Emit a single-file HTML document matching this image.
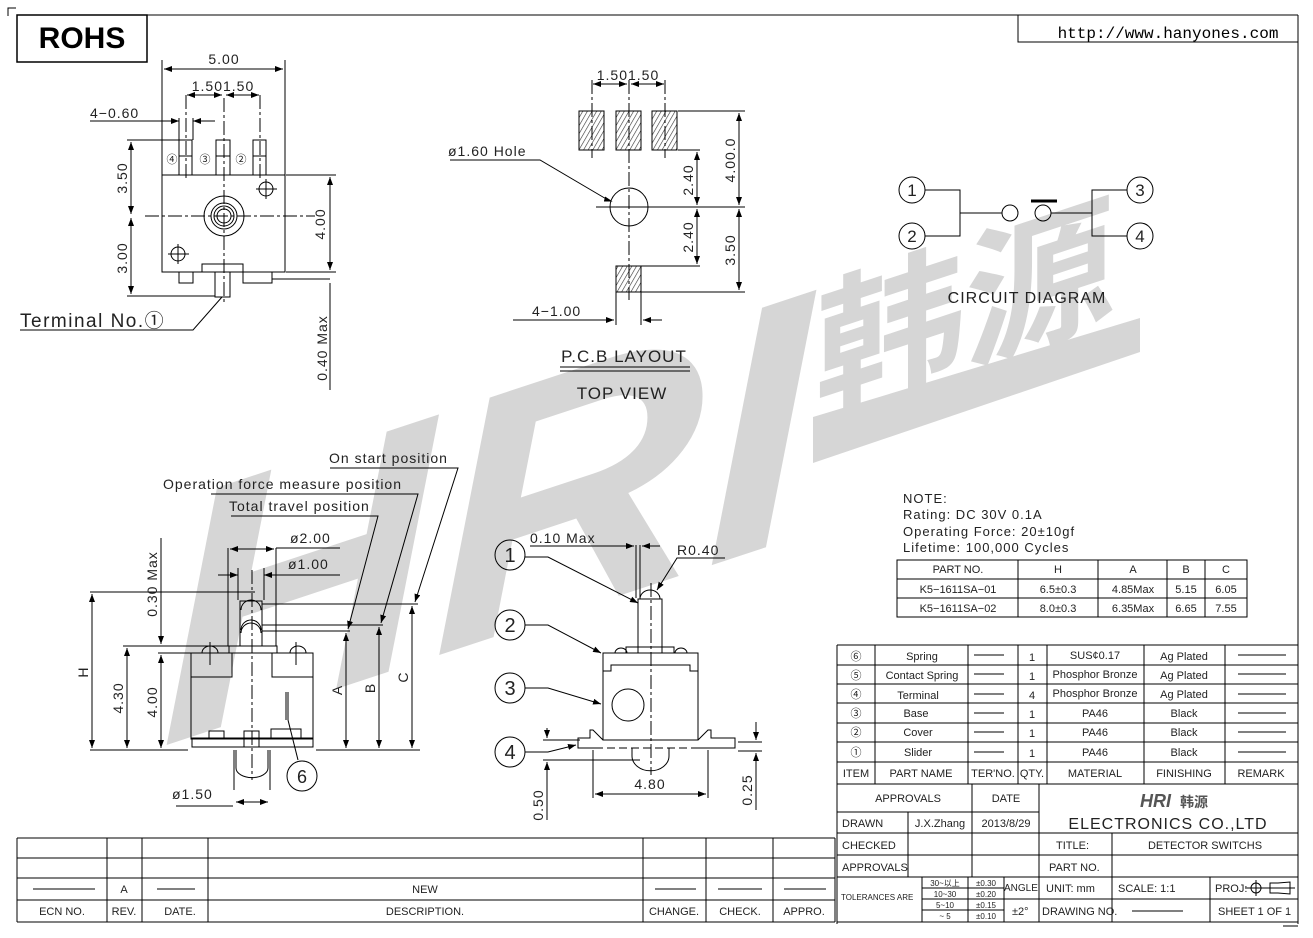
<!DOCTYPE html>
<html><head><meta charset="utf-8"><style>
html,body{margin:0;padding:0;background:#fff;}
svg{display:block;}
text{font-family:"Liberation Sans","Noto Sans CJK SC",sans-serif;fill:#222;}
.t{font-size:14px;letter-spacing:1px;}
.s{font-size:11px;}
.m{font-size:13px;letter-spacing:1px;}
</style></head><body>
<svg width="1313" height="938" viewBox="0 0 1313 938" xmlns="http://www.w3.org/2000/svg">
<defs>
<pattern id="h" width="4" height="4" patternUnits="userSpaceOnUse" patternTransform="rotate(30)"><rect width="4" height="4" fill="#fff"/><line x1="0" y1="0" x2="0" y2="4" stroke="#333" stroke-width="1.2"/></pattern>
<marker id="a" markerWidth="8" markerHeight="6" refX="8" refY="3" orient="auto-start-reverse" markerUnits="userSpaceOnUse"><path d="M0,0 L8,3 L0,6 z" fill="#000"/></marker>
</defs>

<!-- watermark -->
<g transform="matrix(1,-0.33,0,1,0,0)">
<text x="160" y="800" textLength="650" lengthAdjust="spacingAndGlyphs" style="font-size:350px;font-weight:bold;font-style:italic;font-family:'Liberation Sans',sans-serif;fill:#d6d6d6">HRI</text>
<text x="815" y="680" style="font-size:150px;font-weight:bold;font-family:'Noto Sans CJK SC',sans-serif;fill:#d6d6d6">韩源</text>
</g>
<polygon points="813,417 1140,318 1140,352 813,463" fill="#d6d6d6"/>

<g stroke="#000" stroke-width="1" fill="none">
<!-- frame -->
<path d="M8,16 V8 H16"/>
<line x1="22" y1="15" x2="1298" y2="15"/>
<line x1="1298" y1="15" x2="1298" y2="924"/>
<rect x="17" y="15" width="130" height="47" stroke-width="1.5"/>
<path d="M1018,15 V42 H1298"/>
<line x1="1283" y1="926" x2="1298" y2="926"/>

<!-- top-left view -->
<rect x="162" y="175" width="123" height="97"/>
<rect x="179" y="140" width="13" height="35"/><rect x="216" y="140" width="14" height="35"/><rect x="253" y="140" width="13" height="35"/>
<line x1="179" y1="156" x2="192" y2="156"/><line x1="216" y1="156" x2="230" y2="156"/><line x1="253" y1="156" x2="266" y2="156"/>
<circle cx="224" cy="216" r="20"/><circle cx="224" cy="216" r="13"/><circle cx="224" cy="216" r="10"/><circle cx="224" cy="216" r="7"/>
<line x1="145" y1="216" x2="315" y2="216" stroke-dasharray="14,3,3,3"/>
<line x1="224" y1="98" x2="224" y2="305" stroke-dasharray="14,3,3,3"/>
<line x1="186" y1="95" x2="186" y2="180" stroke-dasharray="14,3,3,3"/><line x1="260" y1="95" x2="260" y2="180" stroke-dasharray="14,3,3,3"/>
<circle cx="266" cy="189" r="7"/><line x1="256" y1="189" x2="277" y2="189"/><line x1="266" y1="179" x2="266" y2="199"/>
<circle cx="178" cy="254" r="7"/><line x1="168" y1="254" x2="189" y2="254"/><line x1="178" y1="244" x2="178" y2="264"/>
<rect x="202" y="264" width="41" height="8"/>
<rect x="179" y="272" width="14" height="11"/><rect x="215" y="272" width="15" height="25"/><rect x="243" y="272" width="29" height="11"/>
<line x1="272" y1="279" x2="330" y2="279"/>
<line x1="162" y1="60" x2="162" y2="175"/><line x1="285" y1="60" x2="285" y2="175"/>
<line x1="164" y1="69" x2="283" y2="69" marker-start="url(#a)" marker-end="url(#a)"/>
<line x1="187" y1="95" x2="222" y2="95" marker-start="url(#a)" marker-end="url(#a)"/><line x1="226" y1="95" x2="259" y2="95" marker-start="url(#a)" marker-end="url(#a)"/>
<line x1="90" y1="121" x2="179" y2="121" marker-end="url(#a)"/><line x1="179" y1="118" x2="179" y2="140"/><line x1="193" y1="118" x2="193" y2="140"/><line x1="193" y1="121" x2="215" y2="121" marker-start="url(#a)"/>
<line x1="127" y1="140" x2="179" y2="140"/><line x1="127" y1="296" x2="215" y2="296"/>
<line x1="131" y1="142" x2="131" y2="214" marker-start="url(#a)" marker-end="url(#a)"/><line x1="131" y1="218" x2="131" y2="294" marker-start="url(#a)" marker-end="url(#a)"/>
<line x1="286" y1="175" x2="336" y2="175"/><line x1="286" y1="272" x2="336" y2="272"/>
<line x1="330" y1="177" x2="330" y2="270" marker-start="url(#a)" marker-end="url(#a)"/>
<line x1="330" y1="283" x2="330" y2="390"/>
<path d="M20,330 H193 L222,297"/>

<!-- PCB layout -->
<rect x="579" y="111" width="25" height="39" fill="url(#h)"/><rect x="616" y="111" width="25" height="39" fill="url(#h)"/><rect x="652" y="111" width="25" height="39" fill="url(#h)"/>
<rect x="616" y="266" width="25" height="26" fill="url(#h)"/>
<circle cx="629" cy="207" r="19"/>
<line x1="596" y1="207" x2="660" y2="207"/>
<line x1="629" y1="80" x2="629" y2="300" stroke-dasharray="14,3,3,3"/>
<line x1="592" y1="80" x2="592" y2="158" stroke-dasharray="14,3,3,3"/><line x1="665" y1="80" x2="665" y2="158" stroke-dasharray="14,3,3,3"/>
<line x1="593" y1="84" x2="627" y2="84" marker-start="url(#a)" marker-end="url(#a)"/><line x1="631" y1="84" x2="664" y2="84" marker-start="url(#a)" marker-end="url(#a)"/>
<line x1="678" y1="111" x2="745" y2="111"/><line x1="678" y1="150" x2="700" y2="150"/><line x1="660" y1="207" x2="745" y2="207"/><line x1="641" y1="266" x2="700" y2="266"/><line x1="641" y1="292" x2="745" y2="292"/>
<line x1="697" y1="152" x2="697" y2="205" marker-start="url(#a)" marker-end="url(#a)"/><line x1="697" y1="209" x2="697" y2="264" marker-start="url(#a)" marker-end="url(#a)"/>
<line x1="739" y1="113" x2="739" y2="205" marker-start="url(#a)" marker-end="url(#a)"/><line x1="739" y1="209" x2="739" y2="290" marker-start="url(#a)" marker-end="url(#a)"/>
<line x1="616" y1="292" x2="616" y2="325"/><line x1="641" y1="292" x2="641" y2="325"/>
<line x1="513" y1="320" x2="614" y2="320" marker-end="url(#a)"/><line x1="643" y1="320" x2="662" y2="320" marker-start="url(#a)"/>
<path d="M450,160 H540 L608,200" /><path d="M605,197 l6,4 l-7,0" fill="#000"/>
<line x1="560" y1="367" x2="690" y2="367"/><line x1="560" y1="371" x2="690" y2="371"/>

<!-- circuit -->
<circle cx="912" cy="190" r="13"/><circle cx="912" cy="236" r="13"/><circle cx="1140" cy="190" r="13"/><circle cx="1140" cy="236" r="13"/>
<path d="M925,190 H960 V236 H925 M960,213 H1002"/>
<circle cx="1010" cy="213" r="8"/><circle cx="1043" cy="213" r="8"/>
<line x1="1031" y1="201" x2="1057" y2="201" stroke-width="3"/>
<path d="M1051,213 H1092 V190 H1127 M1092,213 V236 H1127"/>

<!-- note table -->
<rect x="897" y="560" width="350" height="57"/>
<line x1="897" y1="579" x2="1247" y2="579"/><line x1="897" y1="598" x2="1247" y2="598"/>
<line x1="1018" y1="560" x2="1018" y2="617"/><line x1="1098" y1="560" x2="1098" y2="617"/><line x1="1167" y1="560" x2="1167" y2="617"/><line x1="1205" y1="560" x2="1205" y2="617"/>

<!-- bottom-left view -->
<rect x="191" y="653" width="122" height="86"/>
<path d="M191,677 H232 V653 M313,677 H272 V653"/>
<rect x="192" y="738" width="121" height="9"/>
<rect x="229" y="646" width="48" height="7"/>
<path d="M202,653 a8,7 0 0 1 16,0 M290,653 a8,7 0 0 1 16,0"/>
<line x1="210" y1="642" x2="210" y2="665"/><line x1="296" y1="642" x2="296" y2="665"/>
<rect x="240" y="601" width="22" height="45"/>
<path d="M241,610 a10,10 0 0 1 20,0 M241,630 a10,10 0 0 1 20,0 M241,633 a10,10 0 0 1 20,0"/>
<rect x="244" y="731" width="15" height="16"/>
<path d="M234,750 V790 M270,750 V790 M236,750 v18 a10,6 0 0 0 32,0 v-18"/>
<rect x="209" y="731" width="15" height="7"/><rect x="271" y="729" width="30" height="9"/>
<line x1="252" y1="570" x2="252" y2="780" stroke-dasharray="14,3,3,3"/>
<line x1="286" y1="692" x2="286" y2="720"/><line x1="288" y1="692" x2="288" y2="720"/>
<path d="M288,720 L298,760"/><circle cx="302" cy="776" r="15"/>
<line x1="228" y1="548" x2="228" y2="646"/><line x1="276" y1="548" x2="276" y2="646"/>
<line x1="230" y1="549" x2="274" y2="549" marker-start="url(#a)" marker-end="url(#a)"/><line x1="276" y1="548" x2="340" y2="548"/>
<line x1="218" y1="575" x2="238" y2="575" marker-end="url(#a)"/><line x1="264" y1="575" x2="340" y2="575" marker-start="url(#a)"/>
<line x1="238" y1="568" x2="238" y2="600"/><line x1="264" y1="568" x2="264" y2="600"/>
<line x1="90" y1="592" x2="255" y2="592"/>
<line x1="123" y1="646" x2="240" y2="646"/><line x1="158" y1="653" x2="192" y2="653"/>
<line x1="90" y1="750" x2="188" y2="750"/><line x1="316" y1="750" x2="420" y2="750"/>
<line x1="92" y1="594" x2="92" y2="748" marker-start="url(#a)" marker-end="url(#a)"/>
<line x1="127" y1="648" x2="127" y2="748" marker-start="url(#a)" marker-end="url(#a)"/>
<line x1="161" y1="655" x2="161" y2="748" marker-start="url(#a)" marker-end="url(#a)"/>
<line x1="161" y1="538" x2="161" y2="644" marker-end="url(#a)"/>
<line x1="262" y1="604" x2="418" y2="604"/><line x1="262" y1="625" x2="383" y2="625"/><line x1="262" y1="631" x2="350" y2="631"/>
<line x1="346" y1="633" x2="346" y2="748" marker-start="url(#a)" marker-end="url(#a)"/>
<line x1="379" y1="627" x2="379" y2="748" marker-start="url(#a)" marker-end="url(#a)"/>
<line x1="412" y1="606" x2="412" y2="748" marker-start="url(#a)" marker-end="url(#a)"/>
<path d="M330,468 H458 L415,602" marker-end="url(#a)"/>
<path d="M211,494 H418 L381,623" marker-end="url(#a)"/>
<path d="M231,516 H378 L348,629" marker-end="url(#a)"/>
<line x1="233" y1="806" x2="176" y2="806"/><line x1="236" y1="802" x2="268" y2="802" marker-start="url(#a)" marker-end="url(#a)"/>

<!-- right-middle view -->
<rect x="603" y="653" width="95" height="87"/>
<path d="M603,671 H611 V665 H690 V671 H698"/>
<rect x="638" y="599" width="24" height="54"/>
<path d="M640,599 a10,9 0 0 1 20,0"/>
<rect x="626" y="647" width="48" height="6"/>
<path d="M615,653 a6,5 0 0 1 12,0 M675,653 a6,5 0 0 1 12,0"/>
<circle cx="628" cy="705" r="16"/>
<line x1="651" y1="583" x2="651" y2="775" stroke-dasharray="14,3,3,3"/>
<path d="M603,740 L593,730 H590 V738 H578 V748 H603 M698,740 L708,730 H711 V738 H735 V748 H698"/>
<path d="M632,748 v8 a10,8 0 0 0 37,0 v-8"/>
<path d="M583,748 H720" stroke-dasharray="8,4"/>
<line x1="636" y1="545" x2="636" y2="598"/><line x1="640" y1="545" x2="640" y2="598"/>
<line x1="530" y1="546" x2="634" y2="546" marker-end="url(#a)"/><line x1="642" y1="546" x2="660" y2="546" marker-start="url(#a)"/>
<path d="M725,558 H677 L657,590" marker-end="url(#a)"/>
<circle cx="510" cy="555" r="15"/><circle cx="510" cy="625" r="15"/><circle cx="510" cy="688" r="15"/><circle cx="510" cy="752" r="15"/>
<path d="M525,557 H548 L638,603" marker-end="url(#a)"/>
<path d="M525,625 H548 L601,653" marker-end="url(#a)"/>
<path d="M525,688 H548 L601,704" marker-end="url(#a)"/>
<path d="M525,752 H548 L576,745" marker-end="url(#a)"/>
<line x1="543" y1="740" x2="580" y2="740"/><line x1="543" y1="760" x2="640" y2="760"/>
<line x1="547" y1="728" x2="547" y2="738" marker-end="url(#a)"/><line x1="547" y1="762" x2="547" y2="820" marker-start="url(#a)"/>
<line x1="593" y1="750" x2="593" y2="798"/><line x1="708" y1="750" x2="708" y2="798"/>
<line x1="595" y1="794" x2="706" y2="794" marker-start="url(#a)" marker-end="url(#a)"/>
<line x1="738" y1="742" x2="762" y2="742"/><line x1="738" y1="751" x2="762" y2="751"/>
<line x1="756" y1="722" x2="756" y2="740" marker-end="url(#a)"/><line x1="756" y1="753" x2="756" y2="810" marker-start="url(#a)"/>

<!-- parts table -->
<path d="M837,645 H1298 M837,665 H1298 M837,684 H1298 M837,703 H1298 M837,723 H1298 M837,742 H1298 M837,762 H1298 M837,784 H1298"/>
<path d="M837,645 V924 M875,645 V784 M968,645 V784 M1018,645 V784 M1047,645 V784 M1144,645 V784 M1225,645 V784"/>
<path d="M974,655 h30 M974,674 h30 M974,694 h30 M974,713 h30 M974,732 h30 M974,752 h30 M1238,655 h48 M1238,674 h48 M1238,694 h48 M1238,713 h48 M1238,732 h48 M1238,752 h48"/>
<!-- title block -->
<path d="M837,812 H1039 M837,833 H1298 M837,855 H1298 M837,877 H1298 M837,922 H1298"/>
<path d="M1039,784 V922 M972,784 V877 M908,812 V877 M1112,833 V877 M922,877 V922 M968,877 V922 M1004,877 V922 M1210,877 V922 M1112,877 V922"/>
<path d="M922,888 H1004 M922,899 H1004 M922,910 H1004 M1004,899 H1039 M1039,899 H1298 M1210,899 H1298"/>
<line x1="1132" y1="911" x2="1183" y2="911"/>
<circle cx="1256" cy="888" r="5"/><line x1="1245" y1="888" x2="1295" y2="888"/><line x1="1256" y1="880" x2="1256" y2="896"/><path d="M1270,883 H1278 L1290,882 V894 L1278,893 H1270 Z"/>

<!-- revision table -->
<path d="M17,838 H835 M17,858 H835 M17,878 H835 M17,900 H835 M17,922 H835"/>
<path d="M17,838 V922 M107,838 V922 M142,838 V922 M208,838 V922 M643,838 V922 M706,838 V922 M773,838 V922 M835,838 V922"/>
<path d="M33,889 H95 M157,889 H195 M655,889 H696 M718,889 H762 M784,889 H826"/>
</g>

<!-- texts -->
<text x="82" y="48" text-anchor="middle" style="font-size:30px;font-weight:bold;fill:#000">ROHS</text>
<text x="1168" y="38" text-anchor="middle" style="font-family:'Liberation Mono',monospace;font-size:16px;fill:#000">http://www.hanyones.com</text>

<text x="224" y="64" text-anchor="middle" class="t">5.00</text>
<text x="223" y="91" text-anchor="middle" class="t">1.501.50</text>
<text x="90" y="118" class="t">4−0.60</text>
<text x="172" y="163" text-anchor="middle" class="s">④</text><text x="205" y="163" text-anchor="middle" class="s">③</text><text x="241" y="163" text-anchor="middle" class="s">②</text>
<text transform="translate(127,178) rotate(-90)" text-anchor="middle" class="t">3.50</text>
<text transform="translate(127,258) rotate(-90)" text-anchor="middle" class="t">3.00</text>
<text transform="translate(325,224) rotate(-90)" text-anchor="middle" class="t">4.00</text>
<text transform="translate(327,348) rotate(-90)" text-anchor="middle" class="t">0.40 Max</text>
<text x="20" y="327" style="font-size:19px;letter-spacing:1.5px">Terminal No.①</text>

<text x="628" y="80" text-anchor="middle" class="t">1.501.50</text>
<text x="448" y="156" class="t">ø1.60 Hole</text>
<text transform="translate(693,180) rotate(-90)" text-anchor="middle" class="t">2.40</text>
<text transform="translate(735,160) rotate(-90)" text-anchor="middle" class="t">4.00.0</text>
<text transform="translate(693,237) rotate(-90)" text-anchor="middle" class="t">2.40</text>
<text transform="translate(735,250) rotate(-90)" text-anchor="middle" class="t">3.50</text>
<text x="532" y="316" class="t">4−1.00</text>
<text x="624" y="362" text-anchor="middle" style="font-size:17px;letter-spacing:1px">P.C.B LAYOUT</text>
<text x="622" y="399" text-anchor="middle" style="font-size:17px;letter-spacing:1px">TOP VIEW</text>

<text x="912" y="196" text-anchor="middle" style="font-size:17px">1</text><text x="912" y="242" text-anchor="middle" style="font-size:17px">2</text>
<text x="1140" y="196" text-anchor="middle" style="font-size:17px">3</text><text x="1140" y="242" text-anchor="middle" style="font-size:17px">4</text>
<text x="1027" y="303" text-anchor="middle" style="font-size:16px;letter-spacing:1px">CIRCUIT DIAGRAM</text>

<text x="903" y="503" class="m">NOTE:</text>
<text x="903" y="519" class="m">Rating: DC 30V 0.1A</text>
<text x="903" y="536" class="m">Operating Force: 20±10gf</text>
<text x="903" y="552" class="m">Lifetime: 100,000 Cycles</text>
<g class="s" text-anchor="middle">
<text x="958" y="573">PART NO.</text><text x="1058" y="573">H</text><text x="1133" y="573">A</text><text x="1186" y="573">B</text><text x="1226" y="573">C</text>
<text x="958" y="593">K5−1611SA−01</text><text x="1058" y="593">6.5±0.3</text><text x="1133" y="593">4.85Max</text><text x="1186" y="593">5.15</text><text x="1226" y="593">6.05</text>
<text x="958" y="612">K5−1611SA−02</text><text x="1058" y="612">8.0±0.3</text><text x="1133" y="612">6.35Max</text><text x="1186" y="612">6.65</text><text x="1226" y="612">7.55</text>
</g>

<text x="329" y="463" class="t">On start position</text>
<text x="163" y="489" class="t">Operation force measure position</text>
<text x="229" y="511" class="t">Total travel position</text>
<text x="290" y="543" class="t">ø2.00</text>
<text x="288" y="569" class="t">ø1.00</text>
<text transform="translate(157,584) rotate(-90)" text-anchor="middle" class="t">0.30 Max</text>
<text transform="translate(88,672) rotate(-90)" text-anchor="middle" class="t">H</text>
<text transform="translate(123,698) rotate(-90)" text-anchor="middle" class="t">4.30</text>
<text transform="translate(157,702) rotate(-90)" text-anchor="middle" class="t">4.00</text>
<text transform="translate(342,690) rotate(-90)" text-anchor="middle" class="t">A</text>
<text transform="translate(375,688) rotate(-90)" text-anchor="middle" class="t">B</text>
<text transform="translate(408,677) rotate(-90)" text-anchor="middle" class="t">C</text>
<text x="302" y="783" text-anchor="middle" style="font-size:18px">6</text>
<text x="172" y="799" class="t">ø1.50</text>

<text x="530" y="543" class="t">0.10 Max</text>
<text x="677" y="555" class="t">R0.40</text>
<g text-anchor="middle" style="font-size:20px"><text x="510" y="562">1</text><text x="510" y="632">2</text><text x="510" y="695">3</text><text x="510" y="759">4</text></g>
<text x="650" y="789" text-anchor="middle" class="t">4.80</text>
<text transform="translate(543,805) rotate(-90)" text-anchor="middle" class="t">0.50</text>
<text transform="translate(752,790) rotate(-90)" text-anchor="middle" class="t">0.25</text>

<g class="s" text-anchor="middle">
<text x="856" y="660">⑥</text><text x="922" y="660">Spring</text><text x="1032" y="661">1</text><text x="1095" y="659">SUS¢0.17</text><text x="1184" y="660">Ag Plated</text>
<text x="856" y="679">⑤</text><text x="922" y="679">Contact Spring</text><text x="1032" y="680">1</text><text x="1095" y="678">Phosphor Bronze</text><text x="1184" y="679">Ag Plated</text>
<text x="856" y="698">④</text><text x="918" y="699">Terminal</text><text x="1032" y="699">4</text><text x="1095" y="697">Phosphor Bronze</text><text x="1184" y="698">Ag Plated</text>
<text x="856" y="717">③</text><text x="916" y="717">Base</text><text x="1032" y="718">1</text><text x="1095" y="717">PA46</text><text x="1184" y="717">Black</text>
<text x="856" y="736">②</text><text x="918" y="736">Cover</text><text x="1032" y="737">1</text><text x="1095" y="736">PA46</text><text x="1184" y="736">Black</text>
<text x="856" y="756">①</text><text x="918" y="756">Slider</text><text x="1032" y="757">1</text><text x="1095" y="756">PA46</text><text x="1184" y="756">Black</text>
<text x="856" y="777">ITEM</text><text x="921" y="777">PART NAME</text><text x="993" y="777">TER'NO.</text><text x="1032" y="777">QTY.</text><text x="1095" y="777">MATERIAL</text><text x="1184" y="777">FINISHING</text><text x="1261" y="777">REMARK</text>
<text x="908" y="802">APPROVALS</text><text x="1006" y="802">DATE</text>
<text x="940" y="827">J.X.Zhang</text><text x="1006" y="827">2013/8/29</text>
<text x="1205" y="849">DETECTOR SWITCHS</text>
</g>
<g class="s">
<text x="842" y="827">DRAWN</text><text x="842" y="849">CHECKED</text><text x="842" y="871">APPROVALS</text>
<text x="1056" y="849">TITLE:</text><text x="1049" y="871">PART NO.</text>
<text x="1046" y="892">UNIT: mm</text><text x="1118" y="892">SCALE:  1:1</text><text x="1215" y="892">PROJ:</text>
<text x="1042" y="915">DRAWING NO.</text><text x="1218" y="915">SHEET  1 OF 1</text>
<text x="1004" y="891" style="font-size:10px">ANGLE</text><text x="1012" y="915">±2°</text>
<text x="841" y="900" style="font-size:8px">TOLERANCES ARE</text>
</g>
<g style="font-size:8px" text-anchor="middle"><text x="945" y="886">30~以上</text><text x="986" y="886">±0.30</text><text x="945" y="897">10~30</text><text x="986" y="897">±0.20</text><text x="945" y="908">5~10</text><text x="986" y="908">±0.15</text><text x="945" y="919">~ 5</text><text x="986" y="919">±0.10</text></g>
<text x="1140" y="807" style="font-size:18px;font-weight:bold;font-style:italic;fill:#555">HRI</text>
<text x="1180" y="807" style="font-size:14px;font-weight:bold;fill:#555">韩源</text>
<text x="1168" y="829" text-anchor="middle" style="font-size:16px;letter-spacing:1px">ELECTRONICS CO.,LTD</text>

<g class="s" text-anchor="middle">
<text x="124" y="893">A</text><text x="425" y="893">NEW</text>
<text x="62" y="915">ECN NO.</text><text x="124" y="915">REV.</text><text x="180" y="915">DATE.</text><text x="425" y="915">DESCRIPTION.</text><text x="674" y="915">CHANGE.</text><text x="740" y="915">CHECK.</text><text x="804" y="915">APPRO.</text>
</g>
</svg>
</body></html>
